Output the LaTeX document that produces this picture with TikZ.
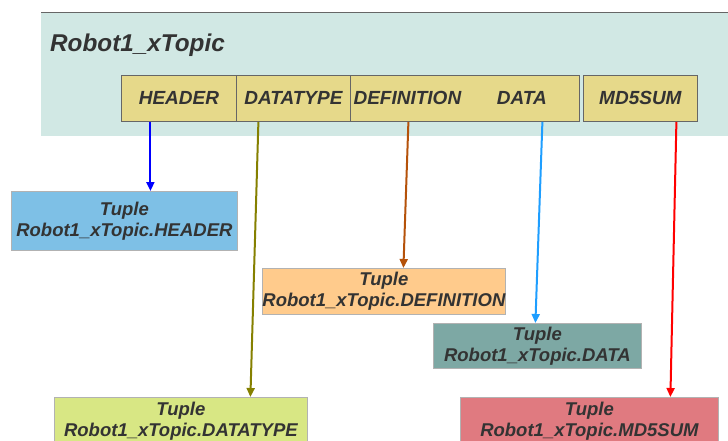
\documentclass[tikz,border=0pt]{standalone}
\usepackage{fontspec}
\setmainfont{Liberation Sans}
\usetikzlibrary{arrows.meta}
\definecolor{bgc}{HTML}{D1E8E4}
\definecolor{fieldc}{HTML}{E6D98A}
\definecolor{txtc}{HTML}{333333}
\definecolor{hdrc}{HTML}{7EC0E6}
\definecolor{defc}{HTML}{FFCB8C}
\definecolor{datac}{HTML}{7DA8A4}
\definecolor{dtc}{HTML}{D8E784}
\definecolor{mdc}{HTML}{E07A80}
\definecolor{olivec}{HTML}{858000}
\definecolor{brownc}{HTML}{B5520A}
\definecolor{skyc}{HTML}{1E9EFF}
\begin{document}
\begin{tikzpicture}[x=1pt,y=-1pt,
  field/.style={draw=gray!80!black, line width=0.8pt, fill=fieldc, minimum width=115pt, minimum height=46pt, anchor=north west, inner sep=0pt, text=txtc, font=\fontsize{19}{21}\selectfont\bfseries\itshape},
  tuple/.style={draw=gray!60, line width=0.8pt, anchor=north west, inner sep=0pt, align=center, text=txtc, font=\fontsize{18.5}{21}\selectfont\bfseries\itshape},
  conn/.style={line width=2pt, -{Triangle[length=9pt,width=8pt]}}
]
\useasboundingbox (0,0) rectangle (728,441);
% topic background
\node[fill=bgc, minimum width=687pt, minimum height=124pt, anchor=north west, inner sep=0pt] (topic) at (41,12) {};
\draw[gray!80!black, line width=0.9pt] (topic.north west) -- (topic.north east);
\node[anchor=west, inner sep=0pt, text=txtc, font=\fontsize{24.3}{26}\selectfont\bfseries\itshape] (title) at (50,45) {Robot1\_xTopic};
% fields
\node[field] (hdr) at (121,75) {HEADER};
\node[field, minimum width=114pt] (dt) at (236,75) {DATATYPE};
\node[field, minimum width=114pt] (def) at (350,75) {DEFINITION};
\node[field, minimum width=115pt, draw=none] (data) at (464,75) {DATA};
\draw[gray!80!black, line width=0.8pt] (data.north west) -- (data.north east) -- (data.south east) -- (data.south west);
\node[field, minimum width=114pt] (md) at (583,75) {MD5SUM};
% tuples
\node[tuple, fill=hdrc, minimum width=226pt, minimum height=59pt] (thdr) at (11,191) {Tuple\\Robot1\_xTopic.HEADER};
\node[tuple, fill=defc, minimum width=243pt, minimum height=46pt] (tdef) at (262,268) {Tuple\\Robot1\_xTopic.DEFINITION};
\node[tuple, fill=datac, minimum width=208pt, minimum height=45pt] (tdata) at (433,323) {Tuple\\Robot1\_xTopic.DATA};
\node[tuple, fill=dtc, minimum width=253pt, minimum height=47pt] (tdt) at (54,397) {Tuple\\Robot1\_xTopic.DATATYPE};
\node[tuple, fill=mdc, minimum width=258pt, minimum height=47pt] (tmd) at (460,397) {Tuple\\Robot1\_xTopic.MD5SUM};
% connectors
\draw[conn, blue] ([xshift=-28.5pt]hdr.south) -- ([xshift=26pt]thdr.north);
\draw[conn, olivec] ([xshift=-35pt]dt.south) -- ([xshift=69.5pt]tdt.north);
\draw[conn, brownc] ([xshift=1pt]def.south) -- ([xshift=19.5pt]tdef.north);
\draw[conn, skyc] ([xshift=20.5pt]data.south) -- ([xshift=-2pt]tdata.north);
\draw[conn, red] ([xshift=36pt]md.south) -- ([xshift=81pt]tmd.north);
\end{tikzpicture}
\end{document}
